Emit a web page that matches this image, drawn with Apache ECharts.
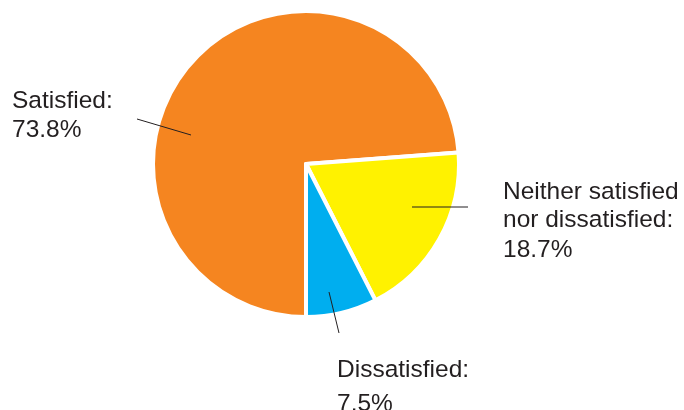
<!DOCTYPE html>
<html>
<head>
<meta charset="utf-8">
<script src="https://cdn.jsdelivr.net/npm/echarts@6/dist/echarts.min.js"></script>
<style>
  html, body { margin: 0; padding: 0; background: #fff; }
  #main { width: 684px; height: 410px; }
</style>
</head>
<body>
<div id="main"></div>
<script>
var names = ['Satisfied', 'Neither satisfied nor dissatisfied', 'Dissatisfied'];
var labelText = ['Satisfied:', 'Neither satisfied\nnor dissatisfied:', 'Dissatisfied:'];
var values = [73.8, 18.7, 7.5];
var colors = ['#f58520', '#fff200', '#00aeef'];

// where each label sits and its leader line (layout only)
var labelPos = [
	{ x: 12, y: 87, nh: 28, ph: 30, line: [[191, 135], [137, 119]] },
	{ x: 503, y: 178, nh: 28, ph: 32, line: [[412, 207], [468, 207]] },
	{ x: 337, y: 353, nh: 34, ph: 34, line: [[329, 292], [339, 333]] }
];

var pieData = [];
var labelData = [];
for (var i = 0; i < names.length; i++) {
	pieData.push({
		name: names[i],
		value: values[i],
		itemStyle: { color: colors[i] }
	});
	labelData.push({
		name: names[i],
		value: values[i],
		label: {
			formatter: labelText[i].replace(/\n/g, '}\n{n|').replace(/^/, '{n|') + '}\n{p|' + values[i].toFixed(1) + '%}',
			rich: {
				n: { lineHeight: labelPos[i].nh },
				p: { lineHeight: labelPos[i].ph }
			}
		}
	});
}

var chart = echarts.init(document.getElementById('main'));
chart.setOption({
	animation: false,
	series: [{
		// the slices
		type: 'pie',
		z: 2,
		center: [306, 164],
		radius: 153,
		startAngle: 270,
		clockwise: true,
		silent: true,
		itemStyle: {
			borderColor: '#ffffff',
			borderWidth: 4
		},
		label: { show: false },
		labelLine: { show: false },
		data: pieData
	}, {
		// same pie, invisible, carries labels and leader lines on top
		type: 'pie',
		z: 3,
		center: [306, 164],
		radius: 153,
		startAngle: 270,
		clockwise: true,
		silent: true,
		avoidLabelOverlap: false,
		itemStyle: { color: 'rgba(0,0,0,0)', borderWidth: 0 },
		label: {
			show: true,
			position: 'outside',
			fontFamily: 'Liberation Sans, Arial, sans-serif',
			fontSize: 24.5,
			color: '#231f20',
			align: 'left'
		},
		labelLine: {
			show: true,
			lineStyle: { color: '#231f20', width: 1 }
		},
		labelLayout: function (params) {
			var p = labelPos[params.dataIndex];
			return {
				x: p.x,
				y: p.y,
				align: 'left',
				verticalAlign: 'top',
				labelLinePoints: p.line
			};
		},
		data: labelData
	}]
});
</script>
</body>
</html>
